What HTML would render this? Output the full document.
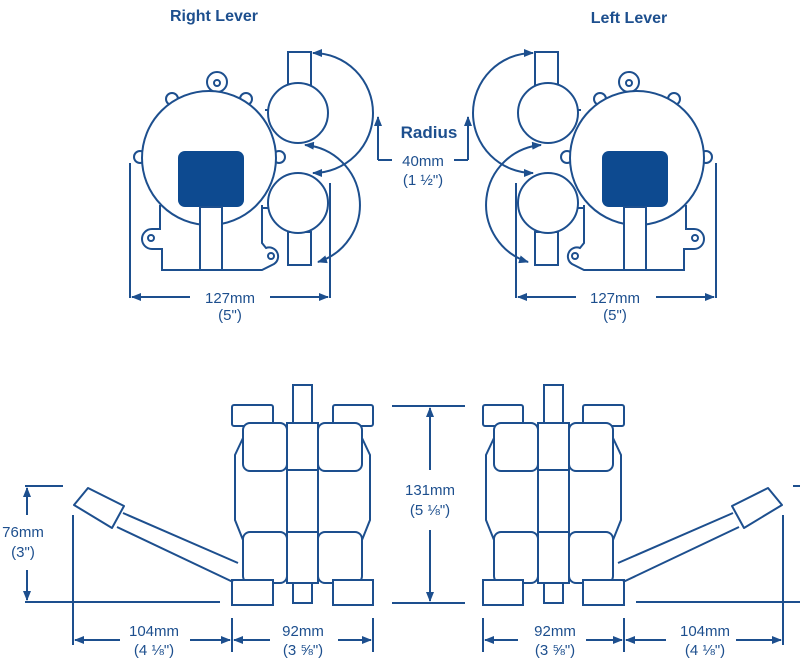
<!DOCTYPE html>
<html><head><meta charset="utf-8"><style>
body{margin:0;background:#fff}
svg{display:block}
text{font-family:"Liberation Sans",sans-serif;fill:#1d4f8e}
</style></head><body>
<svg width="800" height="670" viewBox="0 0 800 670">
<defs>
<marker id="ar" markerWidth="10" markerHeight="8" refX="9" refY="4" orient="auto" markerUnits="userSpaceOnUse"><path d="M0,0 L10,4 L0,8 z" fill="#1d4f8e"/></marker>
<marker id="as" markerWidth="10" markerHeight="8" refX="1" refY="4" orient="auto" markerUnits="userSpaceOnUse"><path d="M10,0 L0,4 L10,8 z" fill="#1d4f8e"/></marker>
<g id="top" fill="none" stroke="#1d4f8e" stroke-width="2">
 <circle cx="217" cy="82" r="10" fill="#fff"/><circle cx="217" cy="83" r="3"/>
 <circle cx="172" cy="99" r="6" fill="#fff"/><circle cx="246" cy="99" r="6" fill="#fff"/>
 <circle cx="140" cy="157" r="6" fill="#fff"/><circle cx="279" cy="157" r="6" fill="#fff"/>
 <path d="M160,205 V229 H152 a10,10 0 0 0 0,20 H162 V270 H262 L274,264 a9,9 0 0 0 -8,-16 L262,243 V205" fill="#fff"/>
 <circle cx="209" cy="158" r="67" fill="#fff"/>
 <rect x="178" y="151" width="66" height="56" rx="7" fill="#0d4a90" stroke="none"/>
 <rect x="200" y="207" width="22" height="63" fill="#fff"/>
 <circle cx="151" cy="238" r="3"/><circle cx="271" cy="256" r="3"/>
 <path d="M265,110 H280"/><path d="M263,208 H270 L277,216"/>
 <rect x="288" y="52" width="23" height="34" fill="#fff"/>
 <rect x="288" y="232" width="23" height="33" fill="#fff"/>
 <circle cx="298" cy="113" r="30" fill="#fff"/>
 <circle cx="298" cy="203" r="30" fill="#fff"/>
 <path d="M313,53 A60,60 0 0 1 313,173" marker-start="url(#as)" marker-end="url(#ar)"/>
 <path d="M305,145 A60,60 0 0 1 318,262" marker-start="url(#as)" marker-end="url(#ar)"/>
 <path d="M130,163 V298 M330,183 V298"/>
 <path d="M190,297 H132" marker-end="url(#ar)"/><path d="M270,297 H328" marker-end="url(#ar)"/>
 <path d="M378,160 H392 M378,160 V118"/><path d="M378,130 V117" marker-end="url(#ar)"/>
</g>
<g id="bot" fill="none" stroke="#1d4f8e" stroke-width="2">
 <rect x="293" y="385" width="19" height="38"/>
 <rect x="232" y="405" width="41" height="21" rx="2"/>
 <rect x="333" y="405" width="40" height="21" rx="2"/>
 <path d="M243,438 L235,455 V520 L243,540 M362,438 L370,455 V520 L362,540"/>
 <rect x="243" y="423" width="44" height="48" rx="7" fill="#fff"/>
 <rect x="318" y="423" width="44" height="48" rx="7" fill="#fff"/>
 <rect x="287" y="423" width="31" height="160"/>
 <path d="M287,470 H318 M287,532 H318"/>
 <rect x="243" y="532" width="44" height="51" rx="7" fill="#fff"/>
 <rect x="318" y="532" width="44" height="51" rx="7" fill="#fff"/>
 <rect x="232" y="580" width="41" height="25" fill="#fff"/>
 <rect x="333" y="580" width="40" height="25" fill="#fff"/>
 <rect x="293" y="583" width="19" height="20" fill="#fff"/>
 <path d="M123,513 L238,563 M117,527 L233,582"/>
 <path d="M74,505 L88,488 L124,506 L112,528 Z" stroke-linejoin="round" fill="#fff"/>
 <path d="M25,486 H63 M25,602 H220"/>
 <path d="M27,515 V488" marker-end="url(#ar)"/><path d="M27,570 V600" marker-end="url(#ar)"/>
 <path d="M73,515 V645 M232,618 V652 M373,618 V652"/>
 <path d="M120,640 H75" marker-end="url(#ar)"/><path d="M190,640 H230" marker-end="url(#ar)"/>
 <path d="M270,640 H234" marker-end="url(#ar)"/><path d="M338,640 H371" marker-end="url(#ar)"/>
</g>
</defs>
<use href="#top"/>
<use href="#top" transform="translate(846,0) scale(-1,1)"/>
<use href="#bot"/>
<use href="#bot" transform="translate(856,0) scale(-1,1)"/>
<g fill="none" stroke="#1d4f8e" stroke-width="2">
 <path d="M392,406 H465 M392,603 H465"/>
 <path d="M430,470 V408" marker-end="url(#ar)"/><path d="M430,530 V601" marker-end="url(#ar)"/>
</g>
<text x="214" y="21" font-size="16" font-weight="bold" text-anchor="middle">Right Lever</text>
<text x="629" y="23" font-size="16" font-weight="bold" text-anchor="middle">Left Lever</text>
<text x="429" y="138" font-size="17" font-weight="bold" text-anchor="middle">Radius</text>
<text x="423" y="166" font-size="15" text-anchor="middle">40mm</text>
<text x="423" y="185" font-size="15" text-anchor="middle">(1 ½")</text>
<text x="230" y="303" font-size="15" text-anchor="middle">127mm</text>
<text x="230" y="320" font-size="15" text-anchor="middle">(5")</text>
<text x="615" y="303" font-size="15" text-anchor="middle">127mm</text>
<text x="615" y="320" font-size="15" text-anchor="middle">(5")</text>
<text x="430" y="495" font-size="15" text-anchor="middle">131mm</text>
<text x="430" y="515" font-size="15" text-anchor="middle">(5 ⅛")</text>
<text x="23" y="537" font-size="15" text-anchor="middle">76mm</text>
<text x="23" y="557" font-size="15" text-anchor="middle">(3")</text>
<text x="154" y="636" font-size="15" text-anchor="middle">104mm</text>
<text x="154" y="655" font-size="15" text-anchor="middle">(4 ⅛")</text>
<text x="303" y="636" font-size="15" text-anchor="middle">92mm</text>
<text x="303" y="655" font-size="15" text-anchor="middle">(3 ⅝")</text>
<text x="555" y="636" font-size="15" text-anchor="middle">92mm</text>
<text x="555" y="655" font-size="15" text-anchor="middle">(3 ⅝")</text>
<text x="705" y="636" font-size="15" text-anchor="middle">104mm</text>
<text x="705" y="655" font-size="15" text-anchor="middle">(4 ⅛")</text>
</svg>
</body></html>
